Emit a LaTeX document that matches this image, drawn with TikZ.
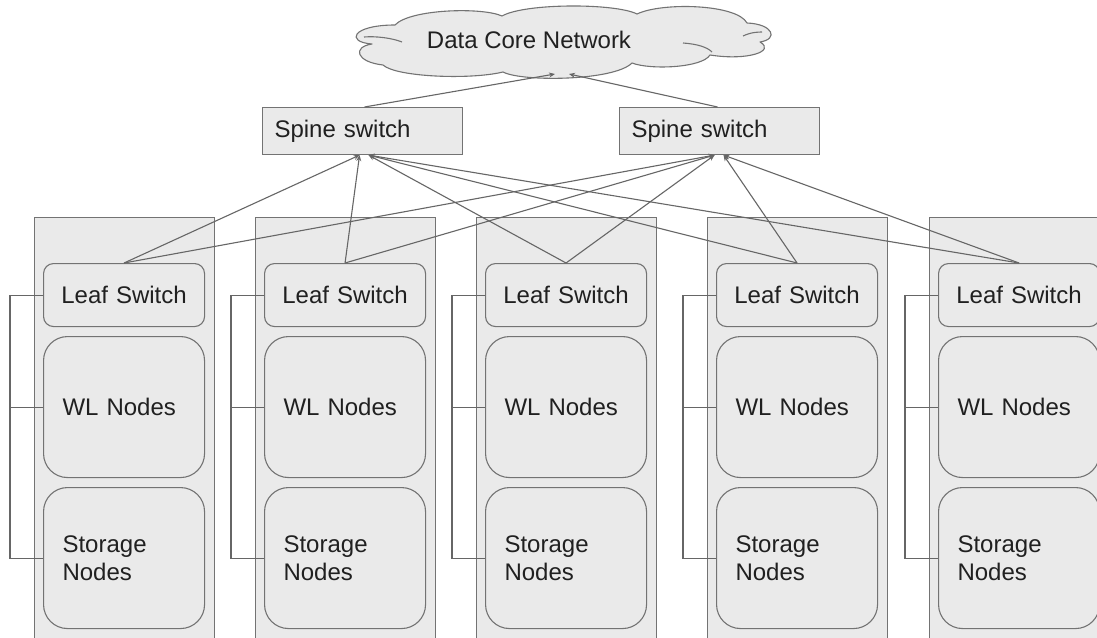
\documentclass[tikz,border=0pt]{standalone}
\usepackage{fontspec}
\setmainfont{Liberation Sans}
\usetikzlibrary{arrows.meta}
\definecolor{boxfill}{HTML}{EAEAEA}
\definecolor{boxdraw}{HTML}{737373}
\definecolor{linec}{HTML}{666666}
\definecolor{txt}{HTML}{202020}
\tikzset{
  base/.style={draw=boxdraw, fill=boxfill, line width=1.1pt, text=txt,
    font=\fontsize{24}{28}\selectfont, inner sep=0pt, anchor=north west},
  rack/.style={base, rectangle, minimum width=180pt, minimum height=440pt},
  leafbox/.style={base, rounded corners=10pt, minimum height=63pt,
    text width=161pt, align=center},
  wlbox/.style={base, rounded corners=24pt, minimum height=141pt,
    text width=123pt, inner xsep=19pt, align=left},
  spinebox/.style={base, minimum width=188pt, minimum height=47pt,
    text width=176pt, inner xsep=12pt, align=left},
  conn/.style={draw=linec, line width=1.1pt},
  arr/.style={conn, -{Stealth[length=6pt,width=5pt]}},
  cloudline/.style={draw=boxdraw, line width=1.1pt, line join=round},
}
\begin{document}
\begin{tikzpicture}[x=1pt,y=-1pt]
\useasboundingbox (0,0) rectangle (1097,637);
\fill[white] (0,0) rectangle (1097,637);

% cloud
\path[cloudline, fill=boxfill] (383,65)
  .. controls (356,62) and (352,47) .. (372,44)
  .. controls (345,42) and (352,25) .. (395,25)
  .. controls (410,9) and (482,7) .. (502,16)
  .. controls (525,3) and (615,3) .. (637,14)
  .. controls (662,2) and (737,4) .. (747,23)
  .. controls (773,24) and (779,39) .. (760,42)
  .. controls (776,51) and (748,61) .. (710,55)
  .. controls (702,68) and (650,70) .. (632,63)
  .. controls (614,81) and (522,82) .. (503,72)
  .. controls (470,80) and (396,77) .. (383,65) -- cycle;
\draw[cloudline] (364,37) .. controls (376,36) and (392,38) .. (402,42);
\draw[cloudline] (762,32) .. controls (753,32) and (747,34) .. (743,36);
\draw[cloudline] (683,43) .. controls (697,44) and (707,47) .. (712,52);
\coordinate (dcnin1) at (555,74);
\coordinate (dcnin2) at (569,74);
\node[text=txt, font=\fontsize{24}{28}\selectfont, inner sep=0pt] (dcnlabel) at (529,40) {Data Core Network};

% spine switches
\node[spinebox] (sp1) at (262,107) {Spine switch};
\node[spinebox] (sp2) at (619,107) {Spine switch};

% racks
\foreach \i/\rx in {1/34, 2/255, 3/476, 4/707, 5/929} {
  \node[rack] (R\i) at (\rx,217) {};
  \node[leafbox] (L\i) at (\rx+9,263) {Leaf Switch};
  \node[wlbox] (W\i) at (\rx+9,336) {WL Nodes};
  \node[wlbox] (S\i) at (\rx+9,487) {Storage\\Nodes};
  \draw[conn] (L\i.west) -- ++(-33,0) |- (W\i.west);
  \draw[conn] (L\i.west) -- ++(-33,0) |- (S\i.west);
}

% leaf to spine
\draw[arr] (L1.north) -- ([xshift=-3pt]sp1.south);
\draw[arr] (L2.north) -- ([xshift=-3pt]sp1.south);
\draw[arr] (L3.north) -- ([xshift=6pt]sp1.south);
\draw[arr] (L4.north) -- ([xshift=6pt]sp1.south);
\draw[arr] (L5.north) -- ([xshift=6pt]sp1.south);
\draw[arr] (L1.north) -- ([xshift=-5pt]sp2.south);
\draw[arr] (L2.north) -- ([xshift=-5pt]sp2.south);
\draw[arr] (L3.north) -- ([xshift=-5pt]sp2.south);
\draw[arr] (L4.north) -- ([xshift=4pt]sp2.south);
\draw[arr] (L5.north) -- ([xshift=4pt]sp2.south);

% spine to core
\draw[arr] ([xshift=2pt]sp1.north) -- (dcnin1);
\draw[arr] ([xshift=-2pt]sp2.north) -- (dcnin2);
\end{tikzpicture}
\end{document}
